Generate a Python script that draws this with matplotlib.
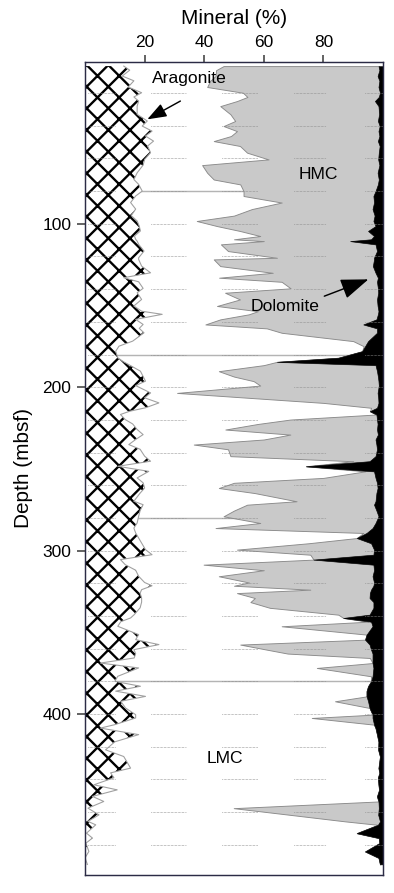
import numpy as np
import matplotlib
matplotlib.use("Agg")
import matplotlib.pyplot as plt

plt.rcParams['font.family'] = ['Liberation Sans', 'DejaVu Sans']
plt.rcParams['hatch.linewidth'] = 1.3

# ===== data =====
depth = [3.5, 6, 9.6, 12.5, 16.3, 19.8, 22.4, 24.9, 28, 33, 37.1, 40.2, 43.3, 46.3, 49.4,
         52.4, 56.5, 60.6, 64.1, 68.8, 72.9, 75.9, 80, 83, 87, 91, 95, 98.3, 101.4, 104.4,
         107.5, 109.5, 110.6, 112.6, 116.7, 120.8, 121.8, 125.9, 130, 133, 135.5, 139.5, 142.2, 146.3, 150.3,
         153.5, 155.4, 158.5, 161.6, 164, 166.7, 171.8, 174.9, 178, 182, 184.5, 186.5, 190.2, 193.5, 196.3,
         199, 203.5, 206.5, 209.6, 212.6, 214.7, 216.7, 219.8, 222.5, 225.9, 229, 232, 235.1, 238, 242.2,
         245.3, 248.4, 251.5, 255.5, 258.5, 261.7, 264.8, 269.8, 271.9, 275.5, 279, 283.1, 286.2, 289.2, 292.3,
         295.5, 299.4, 302.5, 305.5, 308.6, 312, 315.7, 319.5, 321.5, 323.9, 326, 329, 331.5, 335, 339.2,
         341.2, 343.5, 346.3, 351.4, 354.5, 357.5, 360.6, 363, 365.7, 368.8, 371.8, 376.9, 380, 383, 386,
         389.2, 392.2, 396.3, 400.4, 402.4, 406.5, 408.6, 412.6, 417, 421.9, 426, 433.1, 436, 439, 443.3,
         446.4, 450.4, 453.5, 457.6, 461.7, 465.7, 467.8, 472.9, 475.9, 479, 484.1, 488, 492]

aragonite = [13, 15, 12.5, 16.4, 14.5, 19, 16.4, 18, 17.5, 17.5, 20.9, 19.2, 22.5, 20.3, 23,
             21, 22, 20, 19.5, 17.5, 16.4, 18, 19.2, 17, 15.3, 17, 15.5, 17.5, 18.2, 18.6,
             16.6, 17, 17.5, 18, 19.8, 18, 18, 19, 22, 13, 18, 19.5, 17.5, 19, 16.4,
             19, 25.9, 17, 19.5, 18.2, 19.8, 16, 11.4, 10.3, 11, 13, 15, 18.6, 19.5, 20.3,
             17, 22, 20, 24.8, 20.3, 15, 11.9, 13.5, 16, 17.5, 19.5, 17, 14.7, 18.5, 20,
             22, 11, 21.4, 17.5, 19.5, 20, 18.5, 16.4, 19.5, 18.5, 18, 17.5, 16.4, 17, 18,
             19, 20.3, 22.5, 11.9, 13.5, 17, 18, 20, 22.5, 19, 18.5, 19, 19, 18.5, 16.5,
             15.3, 12, 11, 18, 17, 24.8, 16.4, 17, 16.5, 5.2, 18, 11, 10, 18.6, 10.3,
             20.3, 12, 13.6, 17, 17, 10, 5.2, 18, 10, 6.9, 13, 15.3, 8.6, 9.7, 3,
             10.8, 2.5, 6.3, 1, 4.7, 1, 3.6, 0.5, 2.5, 0.3, 1.3, 0, 0.8]

lmc = [33.5, 29, 31.3, 25.6, 26.5, 34, 38.1, 33, 27.9, 31.3, 29.5, 27.3, 28.5, 28.7, 20.2,
       31, 32.4, 41.6, 19.8, 23.5, 26.8, 34.1, 34, 36.2, 50.7, 39, 34.5, 20, 26.1, 33.4,
       42.2, 33, 42.5, 27.6, 28.2, 46.4, 25.2, 26.4, 41, 32, 48, 49.5, 29.5, 33, 27.9,
       39, 29.1, 28.4, 20.9, 42.8, 46.2, 74, 82.1, 82.7, 74, 51.4, 45, 26.3, 30.5, 36.3,
       41.8, 8.9, 35, 55.2, 75.7, 80.6, 85.9, 55.4, 42, 29.6, 49.4, 43, 21.8, 29.5, 28.8,
       68, 63.2, 72.6, 62.5, 30.5, 24.9, 38.5, 54.6, 34.9, 31.5, 28.5, 41.3, 27.4, 76.4, 73.2,
       56, 30.7, 53.1, 64.8, 26.3, 43, 26.9, 35, 27.5, 56.6, 32.5, 38, 36.5, 43.5, 68.5,
       71.4, 83, 55, 76.5, 77, 27.3, 44.6, 51, 79.1, 91.3, 59.8, 85, 86, 76.4, 84.2,
       74.2, 71.9, 81.9, 79.5, 59.1, 87, 92.3, 80, 88.5, 91.5, 86, 83.2, 90.2, 88.6, 95.5,
       87.9, 95.5, 92.2, 48.9, 64.2, 86.4, 94.7, 90.7, 96.1, 98.5, 92.7, 98.5, 98.2]

hmc = [52, 54.8, 54.4, 56.8, 57.5, 46, 44.1, 46.3, 53.1, 49.9, 47.9, 52.4, 47.5, 49.8, 55.1,
       46.9, 44.2, 36.8, 59.5, 57.2, 55.4, 46.2, 44.3, 43.6, 31, 40.5, 47.2, 59.3, 53.2, 43,
       38.2, 46, 29, 51.9, 50, 32.6, 53.8, 51.2, 34.5, 53.3, 32, 29.3, 51.4, 46, 53.9,
       40.5, 43.3, 52.4, 53, 37, 32, 5, 0.5, 0, 0, 0, 37.5, 53.1, 48.3, 41.9,
       39.8, 67.3, 43.4, 18.5, 2, 0, 0, 29.1, 40.2, 50.9, 29.4, 37.5, 61.3, 50, 48.7,
       5.5, 0, 3, 17.5, 48, 53.3, 40.8, 26.5, 42.6, 47.8, 52, 38.7, 52.7, 1.1, 0,
       21, 46, 21.2, 0, 57, 37, 51.6, 42, 46.8, 20.4, 44.6, 38.5, 41.3, 34.8, 10.5,
       0, 1, 30.5, 0, 0, 43.4, 35, 28.5, 0.9, 0, 19, 0.5, 0, 0, 0,
       0, 11.1, 0, 0, 20.4, 0, 0, 0, 0, 0, 0, 0, 0, 0, 0,
       0, 0, 0, 48.7, 29.5, 11.6, 0, 0, 0, 0, 0, 0, 0]

dolomite = [1.5, 1.2, 1.8, 1.2, 1.5, 1, 1.4, 2.7, 1.5, 1.3, 1.7, 1.1, 1.5, 1.2, 1.7,
            1.1, 1.4, 1.6, 1.2, 1.8, 1.4, 1.7, 2.5, 3.2, 3, 3.5, 2.8, 3.2, 2.5, 5,
            3, 4, 11, 2.5, 2, 3, 3, 3.4, 2.5, 1.7, 2, 1.7, 1.6, 2, 1.8,
            1.5, 1.7, 2.2, 6.6, 2, 2, 5, 6, 7, 15, 35.6, 2.5, 2, 1.7, 1.5,
            1.4, 1.8, 1.6, 1.5, 2, 4.4, 2.2, 2, 1.8, 2, 1.7, 2.5, 2.2, 2, 2.5,
            4.5, 25.8, 3, 2.5, 2, 1.8, 2.2, 2.5, 3, 2.2, 1.5, 2.5, 3.5, 5.5, 8.8,
            4, 3, 3.2, 23.3, 3.2, 3, 3.5, 3, 3.2, 4, 4.4, 4.5, 3.2, 3.2, 4.5,
            13.3, 4, 3.5, 5.5, 6, 4.5, 4, 3.5, 3.5, 3.5, 3.2, 3.5, 4, 5, 5.5,
            5.5, 5, 4.5, 3.5, 3.5, 3, 2.5, 2, 1.5, 1.6, 1, 1.5, 1.2, 1.7, 1.5,
            1.3, 2, 1.5, 1.4, 1.6, 1, 1.7, 8.8, 1.4, 1.2, 6, 1.5, 1]

x_ticks = [20, 40, 60, 80]
y_ticks = [100, 200, 300, 400]
grid_depths = list(range(20, 481, 20))
solid_depths = [80, 180, 280, 380]
grid_segments = [(1, 10), (22, 34), (46, 58), (70, 81), (94, 100)]

# ===== layout =====
W, H = 394, 893
DPI = 130
FS_LABEL = 11.5
FS_TICK = 9.6
FS_TEXT = 9.7

fig = plt.figure(figsize=(W / DPI, H / DPI), dpi=DPI)
ax = fig.add_axes([85 / W, 1 - 875 / H, (383 - 85) / W, (875 - 62) / H])

d = np.array(depth)
b1 = np.array(aragonite)
b2 = b1 + np.array(lmc)
b3 = b2 + np.array(hmc)
b4 = b3 + np.array(dolomite)

# 実線のライン（LMC部分のみ見える）
for yy in solid_depths:
    ax.axhline(yy, color='#b4b4b4', lw=0.8, zorder=1)

# Aragonite（クロスハッチ）
ax.fill_betweenx(d, 0, b1, facecolor='white', edgecolor='black', hatch='xx',
                 linewidth=0, zorder=3)
ax.plot(b1, d, color='#a0a0a0', lw=0.6, zorder=4)

# HMC
ax.fill_betweenx(d, b2, b3, facecolor='#c9c9c9', edgecolor='#8a8a8a',
                 linewidth=0.5, zorder=3)
# Dolomite
ax.fill_betweenx(d, b3, b4, facecolor='black', edgecolor='black',
                 linewidth=0.3, zorder=3)

# 点線グリッド
for yy in grid_depths:
    for x0, x1 in grid_segments:
        ax.plot([x0, x1], [yy, yy], color='#8c8c8c', lw=0.55,
                ls=(0, (0.5, 0.9)), zorder=6)

ax.set_xlim(0, 100)
ax.set_ylim(498.5, 1)

ax.xaxis.tick_top()
ax.xaxis.set_label_position('top')
ax.set_xticks(x_ticks)
ax.set_yticks(y_ticks)
ax.tick_params(axis='both', direction='out', labelsize=FS_TICK, color='#444444',
               width=0.9)
ax.tick_params(axis='x', length=3.9, pad=3)
ax.tick_params(axis='y', length=4.5, pad=3)
ax.set_xlabel('Mineral (%)', fontsize=FS_LABEL, labelpad=6)
ax.set_ylabel('Depth (mbsf)', fontsize=FS_LABEL, labelpad=5)
for sp in ax.spines.values():
    sp.set_color('#2b2b45')
    sp.set_linewidth(0.8)
    sp.set_zorder(7)

# テキストと矢印
ax.text(35.2, 10.8, 'Aragonite', fontsize=FS_TEXT, ha='center', va='center', zorder=8)
ax.annotate('', xy=(20.9, 36.1), xytext=(32, 24.9),
            arrowprops=dict(arrowstyle='-|>,head_length=0.6,head_width=0.22',
                            mutation_scale=15, color='black', lw=0.8,
                            shrinkA=0, shrinkB=0), zorder=8)
ax.text(78.2, 69.6, 'HMC', fontsize=FS_TEXT, ha='center', va='center', zorder=8)
ax.text(67.2, 150.4, 'Dolomite', fontsize=FS_TEXT, ha='center', va='center', zorder=8)
ax.annotate('', xy=(95.1, 134), xytext=(80.3, 144.3),
            arrowprops=dict(arrowstyle='-|>,head_length=0.6,head_width=0.22',
                            mutation_scale=22, color='black', lw=0.8,
                            shrinkA=0, shrinkB=0), zorder=8)
ax.text(47.1, 427, 'LMC', fontsize=FS_TEXT, ha='center', va='center', zorder=8)

fig.savefig('out.png', dpi=DPI)
